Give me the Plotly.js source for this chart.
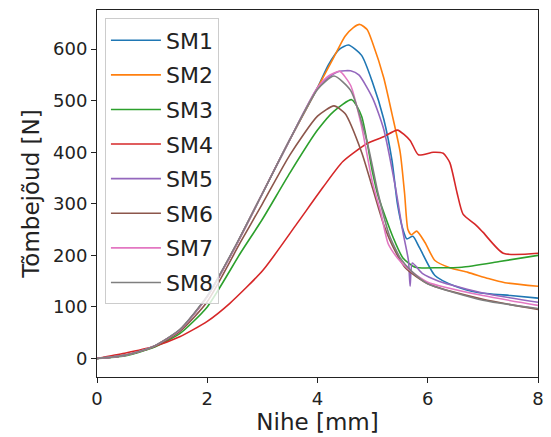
<!DOCTYPE html>
<html>
<head>
<meta charset="utf-8">
<script src="https://cdn.plot.ly/plotly-3.0.1.min.js"></script>
<style>html,body{margin:0;padding:0;background:#fff;}#chart{width:551px;height:437px;}</style>
</head>
<body>
<div id="chart"></div>
<script>
const seriesNames = ["SM1","SM2","SM3","SM4","SM5","SM6","SM7","SM8"];
const colors = ["#1f77b4","#ff7f0e","#2ca02c","#d62728","#9467bd","#8c564b","#e377c2","#7f7f7f"];

const sm1_x = [0,0.5,1,1.5,2,2.5,3,3.5,4,4.2,4.4,4.56,4.8,5.0,5.2,5.35,5.45,5.55,5.62,5.73,5.85,6.13,6.5,6.91,7.5,8];
const sm1_y = [0,6,22,55,120,215,320,425,525,570,600,608,588,535,465,385,300,250,232,237,215,161,140,128,122,117];

const sm2_x = [0,0.5,1,1.5,2,2.5,3,3.5,4,4.3,4.5,4.65,4.77,4.9,5.0,5.2,5.35,5.5,5.58,5.64,5.7,5.8,5.95,6.13,6.4,6.73,7.1,7.4,8];
const sm2_y = [0,6,22,55,120,215,320,425,525,585,625,642,648,638,612,545,475,400,320,250,240,247,225,190,176,167,155,147,140];

const sm3_x = [0,0.5,1,1.5,2,2.6,3,3.5,4,4.3,4.62,4.8,5.0,5.1,5.37,5.55,5.77,6.2,6.62,7.3,8];
const sm3_y = [0,5,20,48,100,204,270,360,443,480,502,470,360,315,235,195,177,176,177,188,200];

const sm4_x = [0,0.5,1,1.5,2,2.41,3.01,3.63,4.1,4.46,4.9,5.2,5.45,5.68,5.83,6.1,6.28,6.4,6.53,6.64,6.86,7.0,7.37,8];
const sm4_y = [0,10,22,42,72,107,171,262,332,382,417,430,443,423,395,400,398,380,322,280,260,245,204,204];

const sm5_x = [0,0.5,1,1.5,2,2.5,3,3.5,4,4.2,4.4,4.6,4.75,5.0,5.2,5.4,5.55,5.65,5.68,5.72,5.9,6.2,7.0,8];
const sm5_y = [0,6,22,55,120,215,320,425,525,545,557,558,550,505,445,340,245,190,140,185,165,150,127,109];

const sm6_x = [0,0.5,1,1.5,2,2.6,3,3.5,4.0,4.3,4.5,4.8,5.0,5.2,5.4,5.6,6.0,7.0,8];
const sm6_y = [0,6,21,52,110,225,300,395,470,490,475,400,330,260,210,175,145,115,95];

const sm7_x = [0,0.5,1,1.5,2,2.5,3,3.5,4,4.2,4.4,4.6,4.8,5.0,5.14,5.28,5.45,5.63,6.0,7.0,8];
const sm7_y = [0,6,22,55,120,215,320,425,525,548,557,530,450,340,287,223,195,175,148,122,103];

const sm8_x = [0,0.5,1,1.5,2,2.5,3,3.5,4,4.3,4.6,4.9,5.1,5.3,5.5,5.7,6.0,7.0,8];
const sm8_y = [0,6,22,56,121,216,320,425,522,548,520,420,320,240,195,170,145,113,97];

const xs = [sm1_x,sm2_x,sm3_x,sm4_x,sm5_x,sm6_x,sm7_x,sm8_x];
const ys = [sm1_y,sm2_y,sm3_y,sm4_y,sm5_y,sm6_y,sm7_y,sm8_y];

const xTicks = [0,2,4,6,8];
const yTicks = [0,100,200,300,400,500,600];

const traces = seriesNames.map((n,i)=>({
  x: xs[i], y: ys[i], name: n, type: 'scatter', mode: 'lines',
  legendgroup: n,
  line: {color: colors[i], width: 1.6, shape: 'spline', smoothing: 0.6}
}));

const axisCommon = {
  showgrid: false, zeroline: false, showline: true, mirror: true,
  linecolor: '#222', linewidth: 1, ticks: 'outside', ticklen: 5, tickwidth: 1, tickcolor: '#222',
  tickfont: {family: 'DejaVu Sans', size: 18, color: '#222'}
};

const layout = {
  width: 551, height: 437,
  margin: {l: 97, r: 13, t: 10, b: 60},
  paper_bgcolor: '#fff', plot_bgcolor: '#fff',
  showlegend: true,
  legend: {
    x: 0.018, y: 0.977, xanchor: 'left', yanchor: 'top',
    bgcolor: 'rgba(255,255,255,0.8)', bordercolor: '#ccc', borderwidth: 1,
    font: {family: 'DejaVu Sans', size: 22, color: '#222'},
    tracegroupgap: 3, traceorder: 'grouped', itemwidth: 50
  },
  xaxis: Object.assign({}, axisCommon, {
    range: [0, 8], tickvals: xTicks, ticktext: xTicks.map(String),
    title: {text: 'Nihe [mm]', font: {family: 'DejaVu Sans', size: 23, color: '#222'}, standoff: 6}
  }),
  yaxis: Object.assign({}, axisCommon, {
    range: [-36, 676], tickvals: yTicks, ticktext: yTicks.map(String),
    title: {text: 'Tõmbejõud [N]', font: {family: 'DejaVu Sans', size: 23, color: '#222'}, standoff: 6}
  })
};

Plotly.newPlot('chart', traces, layout, {displayModeBar: false, staticPlot: true});
</script>
</body>
</html>
